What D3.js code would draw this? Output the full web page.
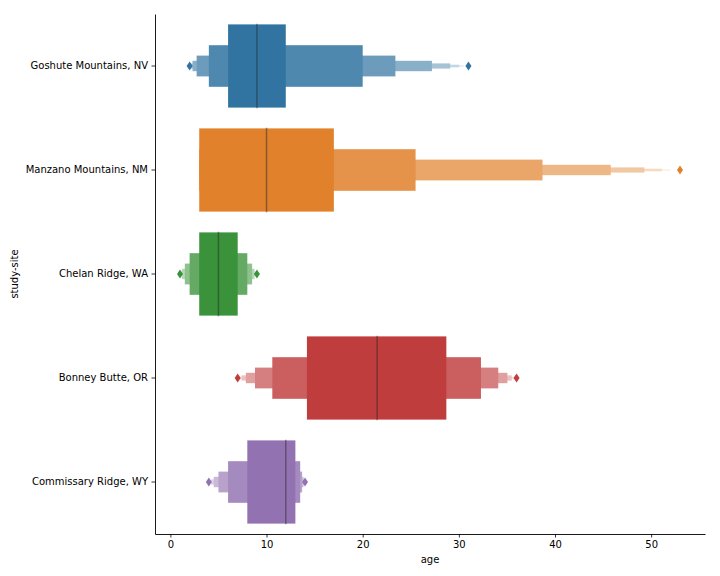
<!DOCTYPE html>
<html>
<head>
<meta charset="utf-8">
<script src="https://cdn.jsdelivr.net/npm/d3@7"></script>
<style>
  body { margin: 0; background: #fff; }
  svg { display: block; font-family: "DejaVu Sans", sans-serif; }
</style>
</head>
<body>
<div id="chart"></div>
<script>
// Sites, top to bottom
const sites = [
  "Goshute Mountains, NV",
  "Manzano Mountains, NM",
  "Chelan Ridge, WA",
  "Bonney Butte, OR",
  "Commissary Ridge, WY"
];

// seaborn "deep" palette, desaturated
const siteColors = ["#3274a1", "#e1812c", "#3a923a", "#c03d3e", "#9372b2"];

const medians = [9, 10, 5, 21.5, 12];

// letter-value box ends, innermost box first
const lowerEnds = [
  [6, 4, 2.73, 2.3, 2.1, 2.05, 2.02],
  [3, 3, 3, 3, 3, 3, 3],
  [3, 2, 1.5, 1.2, 1.0],
  [14.2, 10.6, 8.8, 7.85, 7.4, 7.2],
  [8, 6, 5, 4.5, 4.2, 4.05]
];
const upperEnds = [
  [12, 20, 23.4, 27.2, 29.1, 30.05, 30.5],
  [17, 25.5, 38.7, 45.8, 49.3, 51.1, 52.0],
  [7, 8, 8.5, 8.75, 8.9],
  [28.7, 32.3, 34.1, 35.05, 35.5, 35.8],
  [13, 13.5, 13.7, 13.85, 13.95, 14.0]
];

const outliers = [
  [2, 31],
  [53],
  [1, 9],
  [7, 36],
  [4, 14]
];

const xTicks = [0, 10, 20, 30, 40, 50];

const width = 720, height = 576;
const margin = { top: 14, right: 15, bottom: 42, left: 155 };

const svg = d3.select("#chart").append("svg")
  .attr("width", width)
  .attr("height", height);

const x = d3.scaleLinear()
  .domain([-1.6, 55.6])
  .range([margin.left, width - margin.right]);

const y = d3.scaleBand()
  .domain(sites)
  .range([margin.top, height - margin.bottom]);

const fullH = y.bandwidth() * 0.8;

// Boxes
sites.forEach((site, s) => {
  const lo = lowerEnds[s], hi = upperEnds[s];
  const n = lo.length;
  const base = d3.color(siteColors[s]);
  const light = d3.interpolateRgb(base, "#ffffff")(0.85);
  const col = d3.interpolateRgb(base, light);
  const cy = y(site) + y.bandwidth() / 2;

  const levels = d3.range(n).reverse(); // outermost first, inner on top
  const g = svg.append("g");
  g.selectAll("rect")
    .data(levels)
    .join("rect")
      .attr("x", i => x(lo[i]))
      .attr("width", i => x(hi[i]) - x(lo[i]))
      .attr("y", i => cy - fullH * Math.pow(2, -i) / 2)
      .attr("height", i => fullH * Math.pow(2, -i))
      .attr("fill", i => col(n > 1 ? i / (n - 1) : 0));

  // median
  g.append("line")
    .attr("x1", x(medians[s]))
    .attr("x2", x(medians[s]))
    .attr("y1", cy - fullH / 2 - 0.7)
    .attr("y2", cy + fullH / 2 + 0.7)
    .attr("stroke", "#262626")
    .attr("stroke-opacity", 0.45)
    .attr("stroke-width", 1.5);

  // outliers, thin diamonds
  g.selectAll("path.flier")
    .data(outliers[s])
    .join("path")
      .attr("class", "flier")
      .attr("d", v => {
        const px = x(v), hw = 3, hh = 4.6;
        return `M${px},${cy - hh}L${px + hw},${cy}L${px},${cy + hh}L${px - hw},${cy}Z`;
      })
      .attr("fill", siteColors[s]);
});

// Axes
const xAxis = svg.append("g")
  .attr("transform", `translate(0,${height - margin.bottom})`)
  .call(d3.axisBottom(x).tickValues(xTicks).tickSize(3.5).tickPadding(3.5).tickSizeOuter(0));

const yAxis = svg.append("g")
  .attr("transform", `translate(${margin.left},0)`)
  .call(d3.axisLeft(y).tickSize(3.5).tickPadding(3.5).tickSizeOuter(0));

[xAxis, yAxis].forEach(a => {
  a.select(".domain").attr("stroke", "#000").attr("stroke-width", 0.9);
  a.selectAll(".tick line").attr("stroke", "#000").attr("stroke-width", 0.8);
  a.selectAll(".tick text")
    .attr("fill", "#000")
    .style("font-size", "10px")
    .style("font-family", "'DejaVu Sans', sans-serif");
});

// Axis labels
svg.append("text")
  .attr("x", (margin.left + width - margin.right) / 2)
  .attr("y", 563)
  .attr("text-anchor", "middle")
  .style("font-size", "10px")
  .text("age");

svg.append("text")
  .attr("transform", `translate(18,${(margin.top + height - margin.bottom) / 2}) rotate(-90)`)
  .attr("text-anchor", "middle")
  .style("font-size", "10px")
  .text("study-site");
</script>
</body>
</html>
